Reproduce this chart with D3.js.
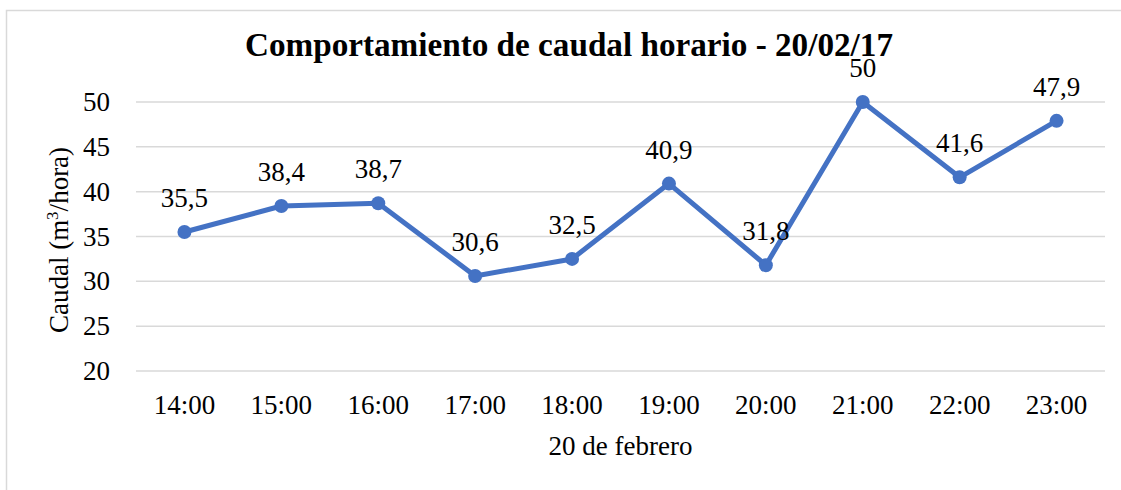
<!DOCTYPE html>
<html>
<head>
<meta charset="utf-8">
<script src="https://cdn.jsdelivr.net/npm/d3@7"></script>
<style>
  body { margin: 0; background: #fff; }
</style>
</head>
<body>
<svg id="chart" width="1121" height="490" font-family="Liberation Serif"></svg>
<script>
// Chart data
const hours    = [ '14:00', '15:00', '16:00', '17:00', '18:00', '19:00', '20:00', '21:00', '22:00', '23:00' ];
const caudal   = [ 35.5, 38.4, 38.7, 30.6, 32.5, 40.9, 31.8, 50, 41.6, 47.9 ];
const yTicks   = [ 20, 25, 30, 35, 40, 45, 50 ];

const FONT = 'Liberation Serif';
const W = 1121, H = 490;
const margin = { top: 102, right: 16, bottom: 119, left: 136 };
const innerW = W - margin.left - margin.right;
const innerH = H - margin.top - margin.bottom;

const svg = d3.select( '#chart' );

// Outer chart border
svg.append( 'rect' )
  .attr( 'x', 6.5 ).attr( 'y', 10.5 )
  .attr( 'width', W + 20 ).attr( 'height', H + 20 )
  .attr( 'fill', 'none' ).attr( 'stroke', '#d9d9d9' ).attr( 'stroke-width', 1.5 );

const g = svg.append( 'g' ).attr( 'transform', `translate(${margin.left},${margin.top})` );

const x = d3.scaleBand( ).domain( hours ).range( [ 0, innerW ] );
const y = d3.scaleLinear( ).domain( [ 20, 50 ] ).range( [ innerH, 0 ] );

// Gridlines
g.selectAll( 'line.grid' )
  .data( yTicks )
  .enter( ).append( 'line' )
  .attr( 'class', 'grid' )
  .attr( 'x1', 0 ).attr( 'x2', innerW )
  .attr( 'y1', d => y( d ) ).attr( 'y2', d => y( d ) )
  .attr( 'stroke', '#d9d9d9' ).attr( 'stroke-width', 1.5 );

// Y axis labels
const yAxis = g.append( 'g' )
  .call( d3.axisLeft( y ).tickValues( yTicks ).tickSize( 0 ).tickPadding( 26 ) )
  .attr( 'font-family', FONT );
yAxis.select( '.domain' ).remove( );
yAxis.selectAll( 'text' )
  .attr( 'font-family', FONT )
  .attr( 'font-size', 27 ).attr( 'fill', '#000' );

// X axis labels
const xAxis = g.append( 'g' )
  .attr( 'transform', `translate(0,${innerH})` )
  .call( d3.axisBottom( x ).tickSize( 0 ).tickPadding( 24 ) )
  .attr( 'font-family', FONT );
xAxis.select( '.domain' ).remove( );
xAxis.selectAll( 'text' )
  .attr( 'font-family', FONT )
  .attr( 'font-size', 27 ).attr( 'fill', '#000' );

// Line
const cx = d => x( d ) + x.bandwidth( ) / 2;
const line = d3.line( )
  .x( ( d, i ) => cx( hours[i] ) )
  .y( d => y( d ) );

g.append( 'path' )
  .datum( caudal )
  .attr( 'd', line )
  .attr( 'fill', 'none' )
  .attr( 'stroke', '#4472c4' )
  .attr( 'stroke-width', 5 )
  .attr( 'stroke-linejoin', 'round' );

g.selectAll( 'circle' )
  .data( caudal )
  .enter( ).append( 'circle' )
  .attr( 'cx', ( d, i ) => cx( hours[i] ) )
  .attr( 'cy', d => y( d ) )
  .attr( 'r', 7 )
  .attr( 'fill', '#4472c4' );

// Data labels
g.selectAll( 'text.lbl' )
  .data( caudal )
  .enter( ).append( 'text' )
  .attr( 'class', 'lbl' )
  .attr( 'x', ( d, i ) => cx( hours[i] ) )
  .attr( 'y', d => y( d ) - 25 )
  .attr( 'text-anchor', 'middle' )
  .attr( 'font-family', FONT )
  .attr( 'font-size', 27 )
  .text( d => String( d ).replace( '.', ',' ) );

// Title
svg.append( 'text' )
  .attr( 'x', 569 ).attr( 'y', 56 )
  .attr( 'text-anchor', 'middle' )
  .attr( 'font-family', FONT )
  .attr( 'font-size', 33 ).attr( 'font-weight', 'bold' )
  .attr( 'textLength', 648 ).attr( 'lengthAdjust', 'spacingAndGlyphs' )
  .text( 'Comportamiento de caudal horario - 20/02/17' );

// Y axis title
svg.append( 'text' )
  .attr( 'transform', 'translate(68,240) rotate(-90)' )
  .attr( 'text-anchor', 'middle' )
  .attr( 'font-family', FONT )
  .attr( 'font-size', 27 )
  .html( 'Caudal (m<tspan dy="-10" font-size="17">3</tspan><tspan dy="10">/hora)</tspan>' );

// X axis title
svg.append( 'text' )
  .attr( 'x', margin.left + innerW / 2 ).attr( 'y', 455 )
  .attr( 'text-anchor', 'middle' )
  .attr( 'font-family', FONT )
  .attr( 'font-size', 27 )
  .text( '20 de febrero' );
</script>
</body>
</html>
